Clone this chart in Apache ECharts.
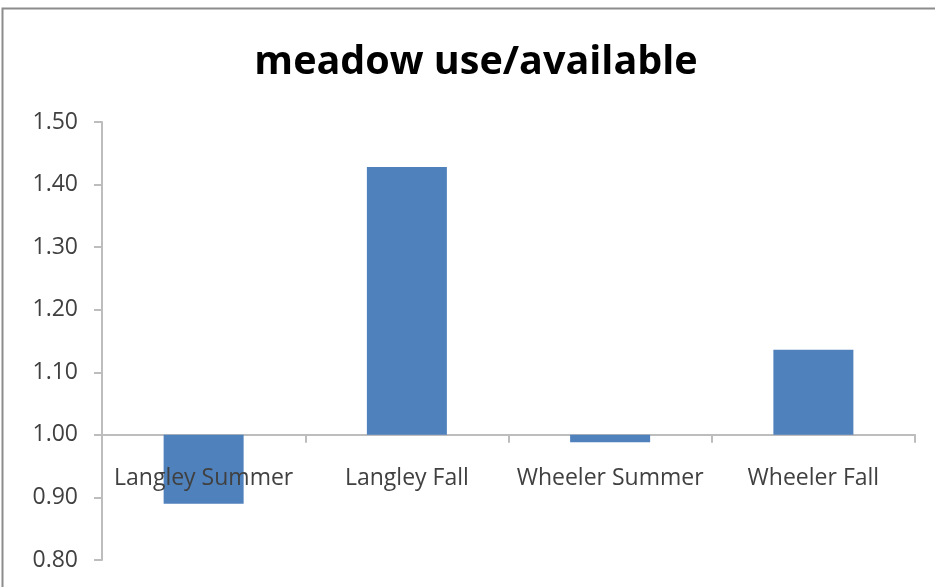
<!DOCTYPE html>
<html><head><meta charset="utf-8">
<script src="https://cdn.jsdelivr.net/npm/echarts@6/dist/echarts.min.js"></script>
<style>html,body{margin:0;padding:0;background:#fff}#c{width:935px;height:587px}</style>
</head><body><div id="c"></div>
<script>
const categories = ["Langley Summer", "Langley Fall", "Wheeler Summer", "Wheeler Fall"];
const ratios = [0.89, 1.428, 0.988, 1.136];
const baseline = 1.0;
const yMin = 0.8, yMax = 1.5, yStep = 0.1;
const titleText = "meadow use/available";

const gridTop = 122, gridBottom = 27, chartH = 587;
const plotH = chartH - gridTop - gridBottom;
const axisOffset = plotH * (baseline - yMin) / (yMax - yMin);

const chart = echarts.init(document.getElementById('c'));
chart.setOption({
  animation: false,
  backgroundColor: '#fff',
  title: {
    text: titleText, left: 471, top: 38, textAlign: 'center',
    textStyle: { fontFamily: 'Open Sans', fontWeight: 'bold', fontSize: 39.5, color: '#000' }
  },
  graphic: [{ type: 'rect', shape: { x: 2.5, y: 8.5, width: 940, height: 600 },
    style: { fill: 'none', stroke: '#8c8c8c', lineWidth: 2 }, silent: true }],
  grid: { left: 102, right: 20, top: gridTop, bottom: gridBottom, containLabel: false, outerBoundsMode: 'none' },
  xAxis: [{
    type: 'category', data: categories,
    axisLine: { onZero: true, lineStyle: { color: '#bdbdbd', width: 2 } },
    axisTick: { show: true, alignWithLabel: false, length: 8, lineStyle: { color: '#bdbdbd', width: 2 } },
    axisLabel: { show: false }
  }, {
    type: 'category', data: categories, position: 'bottom', offset: -axisOffset, z: 10,
    axisLine: { show: false, onZero: false }, axisTick: { show: false },
    axisLabel: { interval: 0, margin: 32, fontFamily: 'Open Sans', fontSize: 23, color: '#404040' }
  }],
  yAxis: {
    type: 'value', min: yMin - baseline, max: yMax - baseline, interval: yStep,
    axisLine: { show: true, lineStyle: { color: '#bdbdbd', width: 2 } },
    axisTick: { show: true, length: 8, lineStyle: { color: '#bdbdbd', width: 2 } },
    splitLine: { show: false },
    axisLabel: { margin: 24, fontFamily: 'Open Sans', fontSize: 23, color: '#404040',
      formatter: v => (v + baseline).toFixed(2) }
  },
  series: [{
    type: 'bar', barWidth: 80, xAxisIndex: 0, z: 2,
    data: ratios.map(v => +(v - baseline).toFixed(4)),
    itemStyle: { color: '#4f81bd' }
  }]
});
</script></body></html>
